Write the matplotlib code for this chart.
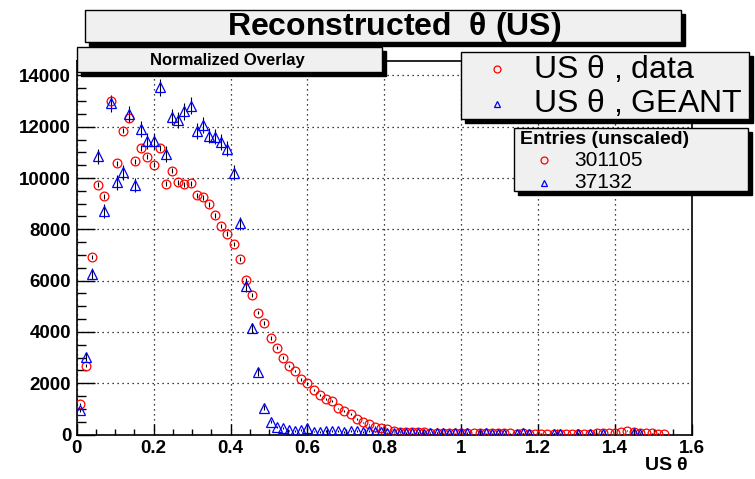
import matplotlib
matplotlib.use("Agg")
import matplotlib.pyplot as plt
from matplotlib.patches import Rectangle
from matplotlib.ticker import MultipleLocator
import numpy as np

plt.rcParams["font.family"] = ["Liberation Sans", "DejaVu Sans"]
plt.rcParams["mathtext.fontset"] = "custom"
plt.rcParams["mathtext.rm"] = "Liberation Sans"
plt.rcParams["mathtext.default"] = "regular"

# histogram binning (100 bins from 0 to 1.6)

BIN_WIDTH = 0.016
N_DATA = 301105
N_GEANT = 37132

# data (red circles), bins 0..95

data_vals = [1190, 2690, 6930, 9735, 9280, 13016, 10576, 11848, 12342, 10654,
             11175, 10837, 10513, 11175, 9775, 10292, 9837, 9759, 9798, 9319,
             9253, 8969, 8541, 8125, 7829, 7430, 6830, 6012, 5428, 4754,
             4350, 3767, 3393, 3004, 2677, 2482, 2148, 1992, 1732, 1537,
             1370, 1304, 1019, 926, 798, 603, 475, 397, 303, 260,
             200, 150, 120, 110, 95, 90, 85, 80, 75, 70,
             65, 70, 60, 55, 60, 50, 55, 50, 45, 50,
             45, 40, 45, 40, 35, 40, 35, 40, 35, 30,
             35, 40, 35, 40, 45, 50, 60, 80, 110, 150,
             110, 80, 60, 45, 40, 35]

# GEANT (blue triangles), normalized to data

geant_bins = list(range(0, 64)) + [65, 66, 67, 68, 69, 71, 72, 73, 77, 78, 81, 83, 85, 90, 91]
geant_vals = [953, 3027, 6272, 10848, 8708, 12911, 9825, 10226, 12498, 9735,
              11914, 11432, 11432, 13533, 10941, 12366, 12264, 12599, 12821, 11837,
              12070, 11654, 11615, 11409, 11148, 10202, 8241, 5790, 4156, 2444,
              1043, 498, 303, 265, 160, 150, 175, 240, 120, 95,
              130, 150, 140, 110, 150, 130, 105, 140, 120, 110,
              65, 80, 70, 60, 50, 60, 40, 50, 65, 50,
              40, 55, 50, 60,
              40, 50, 30, 40, 35, 40, 50, 35, 30, 40, 35, 30, 35, 50, 40]

data_x = BIN_WIDTH * (np.arange(len(data_vals)) + 0.5)
geant_x = BIN_WIDTH * (np.array(geant_bins) + 0.5)
data_y = np.array(data_vals, dtype=float)
geant_y = np.array(geant_vals, dtype=float)
scale = N_DATA / N_GEANT
data_err = np.sqrt(data_y)
geant_err = np.sqrt(geant_y * scale)

W, H = 755, 479
fig = plt.figure(figsize=(W / 100, H / 100), dpi=100)


def fr(x0, y0, x1, y1):
    # pixel box (top-left origin) -> figure fraction rect
    return (x0 / W, 1 - y1 / H, (x1 - x0) / W, (y1 - y0) / H)


def box(x0, y0, x1, y1, shadow=4):
    fx, fy, fw, fh = fr(x0 + shadow, y0 + shadow, x1 + shadow, y1 + shadow)
    fig.patches.append(Rectangle((fx, fy), fw, fh, transform=fig.transFigure,
                                 facecolor="black", edgecolor="black", zorder=5))
    fx, fy, fw, fh = fr(x0, y0, x1, y1)
    fig.patches.append(Rectangle((fx, fy), fw, fh, transform=fig.transFigure,
                                 facecolor="#f0f0f0", edgecolor="black", lw=1, zorder=6))


def marker(x, y, m, c):
    fig.lines.append(plt.Line2D([x / W], [1 - y / H], transform=fig.transFigure, marker=m,
                                mfc="none", mec=c, ms=5, mew=0.9, zorder=7))


ax_left, ax_right, ax_bottom, ax_top = 76.7, 692, 434.6, 61
ax = fig.add_axes(fr(ax_left, ax_top, ax_right, ax_bottom))
ax.set_xlim(0, 1.6)
ax.set_ylim(0, 14560)

ax.errorbar(geant_x, geant_y, yerr=geant_err, fmt="none", ecolor="black", elinewidth=0.8, zorder=2)
ax.errorbar(data_x, data_y, yerr=data_err, fmt="none", ecolor="black", elinewidth=0.8, zorder=2)
ax.plot(data_x, data_y, "o", mfc="none", mec="red", ms=6.3, mew=0.9, zorder=3)
ax.plot(geant_x, geant_y, "^", mfc="none", mec="blue", ms=6.8, mew=0.9, zorder=4)

ax.xaxis.set_major_locator(MultipleLocator(0.2))
ax.xaxis.set_minor_locator(MultipleLocator(0.05))
ax.yaxis.set_major_locator(MultipleLocator(2000))
ax.yaxis.set_minor_locator(MultipleLocator(500))
ax.tick_params(which="major", axis="y", direction="in", length=13, width=1)
ax.tick_params(which="minor", axis="y", direction="in", length=6.5, width=1)
ax.tick_params(which="major", axis="x", direction="in", length=8, width=1)
ax.tick_params(which="minor", axis="x", direction="in", length=4, width=1)
ax.tick_params(labelsize=13.5, pad=4)
ax.set_xticks(np.arange(0, 1.61, 0.2))
ax.set_xticklabels(["0", "0.2", "0.4", "0.6", "0.8", "1", "1.2", "1.4", "1.6"], fontweight="bold")
ax.set_yticks(np.arange(0, 14001, 2000))
ax.set_yticklabels([str(v) for v in range(0, 14001, 2000)], fontweight="bold")
ax.grid(True, which="major", color="black", linestyle=(0, (1, 3)), linewidth=0.9)
for sp in ax.spines.values():
    sp.set_linewidth(1.2)

fig.text(688 / W, 1 - 465 / H, r"US $\theta$", ha="right", va="center",
         fontsize=14, fontweight="bold")

# title box
box(85, 10, 681, 42)
fig.text(394 / W, 1 - 27 / H, r"Reconstructed  $\theta$ (US)", ha="center", va="center",
         fontsize=23, fontweight="bold", zorder=7)

# normalized overlay box
box(77, 47, 382, 72)
fig.text(227 / W, 1 - 60 / H, "Normalized Overlay", ha="center", va="center",
         fontsize=12, fontweight="bold", zorder=7)

# legend with series names
box(461, 52, 749, 119)
marker(497, 69, "o", "red")
marker(497, 104, "^", "blue")
fig.text(533 / W, 1 - 69 / H, r"US $\theta$ , data", ha="left", va="center", fontsize=23, zorder=7)
fig.text(533 / W, 1 - 104 / H, r"US $\theta$ , GEANT", ha="left", va="center", fontsize=23, zorder=7)

# legend with entries
box(514, 128, 748, 191)
fig.text(520 / W, 1 - 139 / H, "Entries (unscaled)", ha="left", va="center",
         fontsize=14, fontweight="bold", zorder=7)
marker(544, 160, "o", "red")
marker(544, 183, "^", "blue")
fig.text(574 / W, 1 - 160 / H, str(N_DATA), ha="left", va="center", fontsize=15, zorder=7)
fig.text(574 / W, 1 - 183 / H, str(N_GEANT), ha="left", va="center", fontsize=15, zorder=7)

fig.savefig("out.png", dpi=100)
